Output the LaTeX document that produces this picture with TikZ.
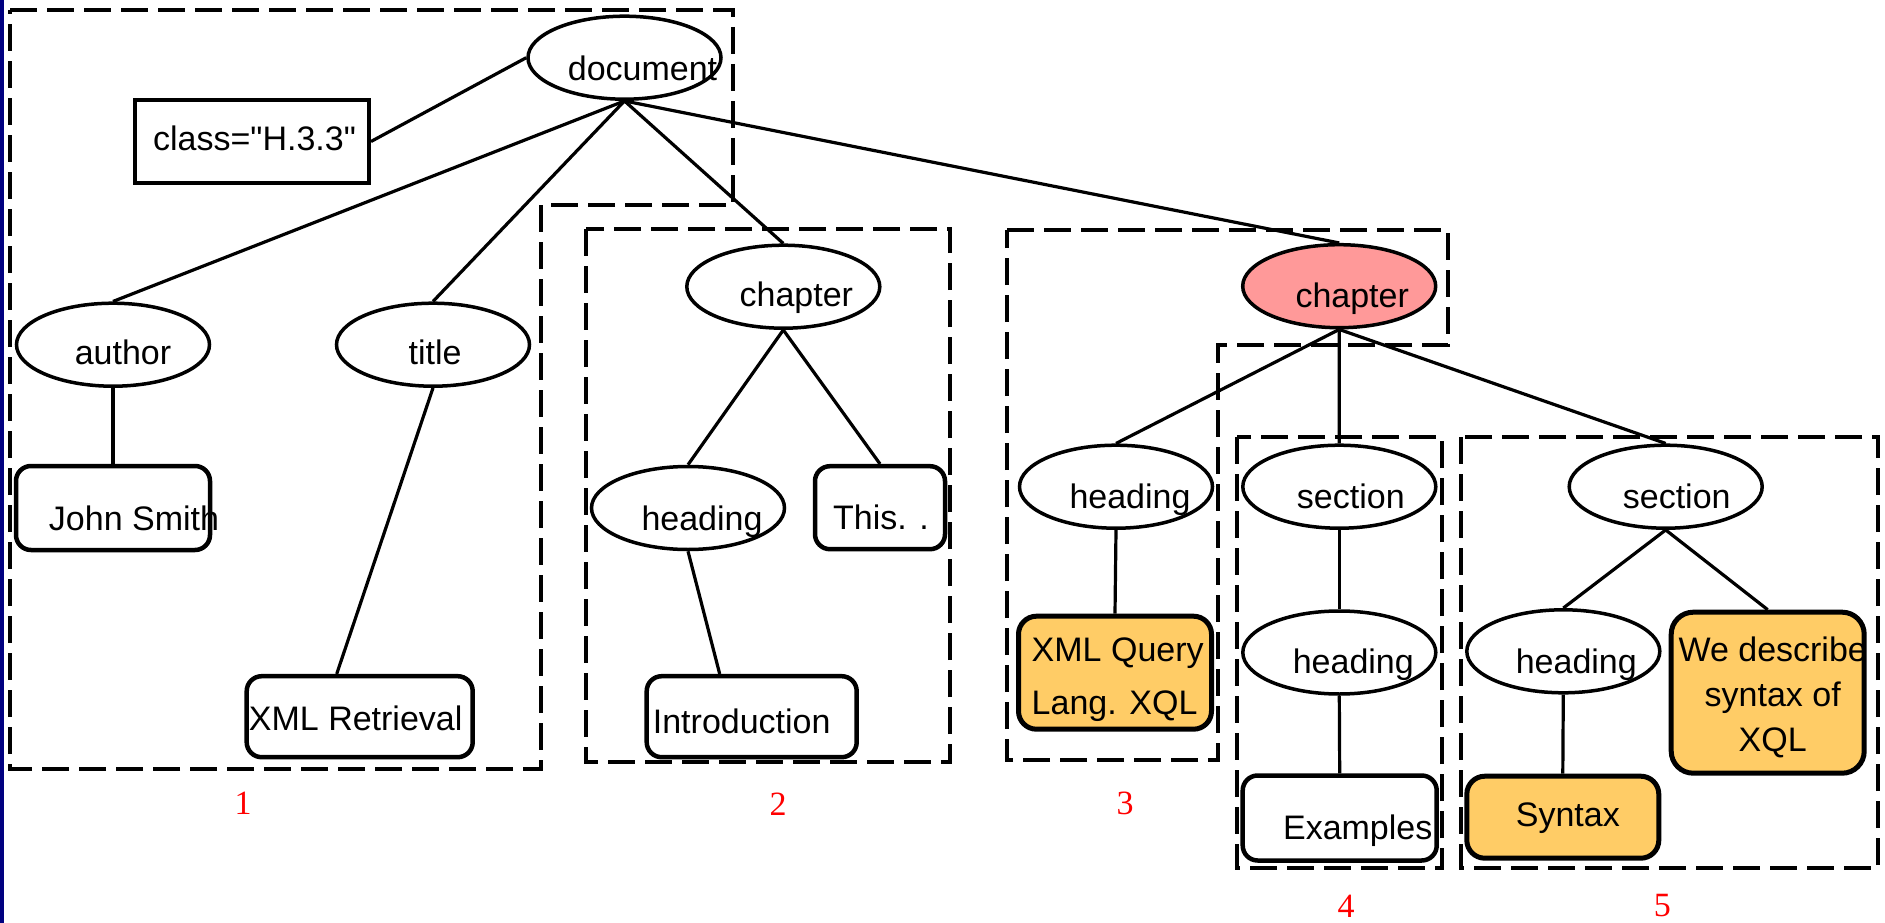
\documentclass[tikz,border=0pt]{standalone}
\usepackage{fontspec}
\usepackage{xcolor}
\usepackage{tikz}
\usetikzlibrary{shapes.geometric}
\setmainfont{Liberation Sans}[Ligatures=TeXOff]
\newfontfamily\numfont{Liberation Serif}

\definecolor{chapred}{HTML}{FF9999}
\definecolor{leaforange}{HTML}{FFCC66}
\definecolor{slidenavy}{HTML}{000080}

% text sits a bit off the middle of its shape
\newcommand{\tx}[3]{\smash{\makebox[0pt]{\hspace*{#1pt}\hspace*{#1pt}\raisebox{-#2pt}{#3}}}}

\begin{document}
\begin{tikzpicture}[x=1pt, y=-1pt,
        elem/.style={ellipse, draw, line width=3.5pt, fill=white, inner sep=0pt,
            minimum width=193pt, minimum height=83pt, font=\fontsize{34}{40}\selectfont},
        leaf/.style={rectangle, rounded corners=15pt, draw, line width=4.5pt, fill=white, inner sep=0pt,
            minimum width=194pt, minimum height=84pt, font=\fontsize{34}{40}\selectfont},
        hit/.style={leaf, fill=leaforange, line width=5pt, rounded corners=18pt, minimum width=193pt},
        attr/.style={rectangle, draw, line width=4pt, fill=white, inner sep=0pt,
            minimum width=234pt, minimum height=83pt, font=\fontsize{34}{40}\selectfont},
        link/.style={line width=3.2pt},
        region/.style={line width=4.5pt, dash pattern=on 27pt off 10pt},
        numlbl/.style={inner sep=0pt, text=red, font=\numfont\fontsize{34}{40}\selectfont}]
            \useasboundingbox (0,0) rectangle (1885,923);
            \fill[slidenavy] (0,0) rectangle (4,923);

            % Regions
            \draw[region] (10,10) -- (733,10) -- (733,205) -- (541,205) -- (541,769) -- (10,769) -- cycle;
            \draw[region] (586,229) rectangle (950,762);
            \draw[region] (1007,230) -- (1448,230) -- (1448,345) -- (1218,345) -- (1218,760) -- (1007,760) -- cycle;
            \draw[region] (1237,437) rectangle (1442,868);
            \draw[region] (1461,437) rectangle (1878,868);

            % Nodes
            \node[elem] (doc) at (624.5,57.7) {\tx{18}{23}{document}};
            \node[attr] (cls) at (252,141.5) {\tx{2.5}{9}{class="H.3.3"}};
            \node[elem] (author) at (113,344.7) {\tx{10}{20}{author}};
            \node[elem] (title) at (433,344.7) {\tx{2}{20}{title}};
            \node[leaf] (smith) at (113,508) {\tx{21}{22}{John Smith}};
            \node[leaf, minimum width=226pt, minimum height=81pt] (xmlret) at (359.7,716.7) {\tx{-4}{14}{XML Retrieval}};

            \node[elem] (chap1) at (783.3,286.7) {\tx{13}{20}{chapter}};
            \node[elem] (head1) at (688,508) {\tx{14}{22}{heading}};
            \node[leaf, minimum width=130pt, minimum height=83pt] (this) at (880,507.7) {\tx{1}{22}{This. .}};
            \node[leaf, minimum width=210pt, minimum height=81pt] (intro) at (751.7,716.7) {\tx{-10}{16.6}{Introduction}};

            \node[elem, fill=chapred] (chap2) at (1339.2,286.2) {\tx{13}{21}{chapter}};
            \node[elem] (head2) at (1116,486.7) {\tx{14}{21.6}{heading}};
            \node[hit, minimum height=113pt] (xql) at (1115,672.7)
                {\tx{2.7}{42}{\begin{tabular}[b]{@{}l@{}}XML Query\\[13pt]Lang. XQL\end{tabular}}};
            \node[elem] (sec1) at (1339.3,486.7) {\tx{11.5}{21.6}{section}};
            \node[elem] (head3) at (1339.3,652.5) {\tx{14}{20.5}{heading}};
            \node[leaf, minimum height=85pt] (examples) at (1339.7,818) {\tx{18}{21.7}{Examples}};
            \node[elem] (sec2) at (1665.7,486.7) {\tx{11}{21.6}{section}};
            \node[elem] (head4) at (1563.3,651.3) {\tx{13}{21.7}{heading}};
            \node[hit, minimum height=161pt, rounded corners=22pt] (desc) at (1767.7,692.7)
                {\tx{5}{58.6}{\begin{tabular}[b]{@{}c@{}}We describe\\[5pt]syntax of\\[5pt]XQL\end{tabular}}};
            \node[hit, minimum width=192pt, minimum height=82pt] (syntax) at (1562.8,817.2) {\tx{5}{9}{Syntax}};

            % Edges
            \draw[link] (doc.west) -- (cls.east);
            \draw[link] (doc.south) -- (author.north);
            \draw[link] (doc.south) -- (title.north);
            \draw[link] (doc.south) -- (chap1.north);
            \draw[link] (doc.south) -- (chap2.north);
            \draw[link] (author.south) -- (smith.north);
            \draw[link] (title.south) -- ([xshift=-23pt]xmlret.north);
            \draw[link] (chap1.south) -- (head1.north);
            \draw[link] (chap1.south) -- (this.north);
            \draw[link] (head1.south) -- ([xshift=-32pt]intro.north);
            \draw[link] (chap2.south) -- (head2.north);
            \draw[link] (chap2.south) -- (sec1.north);
            \draw[link] (chap2.south) -- (sec2.north);
            \draw[link] (head2.south) -- (xql.north);
            \draw[link] (sec1.south) -- (head3.north);
            \draw[link] (head3.south) -- (examples.north);
            \draw[link] (sec2.south) -- (head4.north);
            \draw[link] (sec2.south) -- (desc.north);
            \draw[link] (head4.south) -- (syntax.north);

            % Region numbers
            \node[numlbl] (num1) at (243,803) {1};
            \node[numlbl] (num2) at (778,804) {2};
            \node[numlbl] (num3) at (1125,803) {3};
            \node[numlbl] (num4) at (1346,906) {4};
            \node[numlbl] (num5) at (1662.3,906) {5};
        \end{tikzpicture}
\end{document}
